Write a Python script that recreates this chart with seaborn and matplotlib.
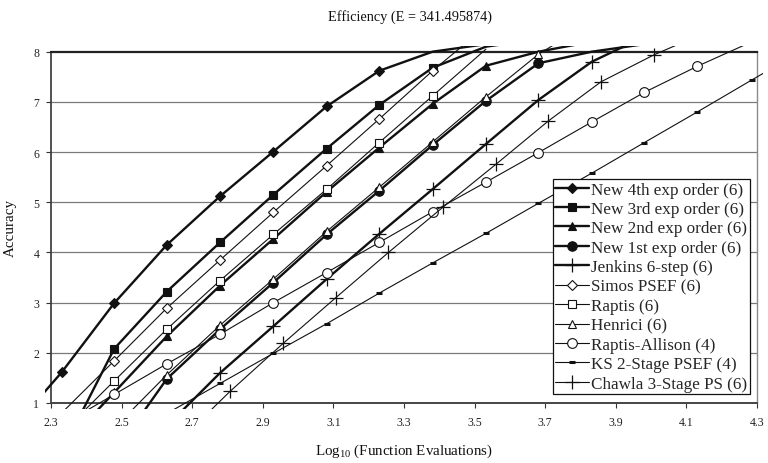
import numpy as np
import pandas as pd
import matplotlib
matplotlib.use("Agg")
import matplotlib.pyplot as plt
import matplotlib.patches as mpatches
import seaborn as sns

sns.set_theme(style="white")
plt.rcParams["font.family"] = ["Liberation Serif", "DejaVu Serif"]
plt.rcParams["mathtext.fontset"] = "custom"
plt.rcParams["mathtext.rm"] = "Liberation Serif"
plt.rcParams["mathtext.it"] = "Liberation Serif:italic"

# ---------------- data ----------------
title = "Efficiency (E = 341.495874)"
x_label = "Log$_{\\mathrm{10}}$ (Function Evaluations)"
y_label = "Accuracy"
x_ticks = [2.3, 2.5, 2.7, 2.9, 3.1, 3.3, 3.5, 3.7, 3.9, 4.1, 4.3]
y_ticks = [1, 2, 3, 4, 5, 6, 7, 8]

labels = ["New 4th exp order (6)", "New 3rd exp order (6)", "New 2nd exp order (6)",
          "New 1st exp order (6)", "Jenkins 6-step (6)", "Simos PSEF (6)", "Raptis (6)",
          "Henrici (6)", "Raptis-Allison (4)", "KS 2-Stage PSEF (4)", "Chawla 3-Stage PS (6)"]

new4_x = [2.180, 2.330, 2.479, 2.628, 2.779, 2.930, 3.081, 3.230, 3.381, 3.532]
new4_y = [0.40, 1.61, 2.99, 4.15, 5.12, 6.01, 6.91, 7.62, 8.00, 8.15]

new3_x = [2.330, 2.479, 2.628, 2.779, 2.930, 3.081, 3.230, 3.381, 3.532, 3.681]
new3_y = [0.03, 2.08, 3.22, 4.20, 5.15, 6.07, 6.94, 7.68, 8.10, 8.25]

new2_x = [2.330, 2.479, 2.628, 2.779, 2.930, 3.081, 3.230, 3.381, 3.532, 3.681, 3.832]
new2_y = [0.10, 1.21, 2.33, 3.34, 4.27, 5.21, 6.09, 6.96, 7.72, 8.00, 8.20]

new1_x = [2.479, 2.628, 2.779, 2.930, 3.081, 3.230, 3.381, 3.532, 3.681, 3.832, 3.981]
new1_y = [0.00, 1.48, 2.47, 3.40, 4.36, 5.23, 6.14, 7.02, 7.77, 8.00, 8.15]

jenk_x = [2.628, 2.779, 2.930, 3.081, 3.230, 3.381, 3.532, 3.681, 3.832, 3.981]
jenk_y = [0.54, 1.60, 2.53, 3.47, 4.37, 5.26, 6.16, 7.04, 7.80, 8.30]

simos_x = [2.330, 2.479, 2.628, 2.779, 2.930, 3.081, 3.230, 3.381, 3.532]
simos_y = [0.80, 1.84, 2.89, 3.85, 4.80, 5.73, 6.66, 7.62, 8.50]

raptis_x = [2.330, 2.479, 2.628, 2.779, 2.930, 3.081, 3.230, 3.381, 3.532]
raptis_y = [0.40, 1.44, 2.47, 3.44, 4.36, 5.26, 6.19, 7.12, 8.05]

henrici_x = [2.479, 2.628, 2.779, 2.930, 3.081, 3.230, 3.381, 3.532, 3.681, 3.832]
henrici_y = [0.50, 1.56, 2.55, 3.47, 4.42, 5.30, 6.20, 7.10, 7.95, 8.60]

ra_x = [2.330, 2.479, 2.628, 2.779, 2.930, 3.081, 3.230, 3.381, 3.532, 3.681, 3.832, 3.981, 4.131, 4.286]
ra_y = [0.56, 1.17, 1.78, 2.37, 3.00, 3.60, 4.20, 4.81, 5.40, 5.99, 6.60, 7.19, 7.71, 8.20]

ks_x = [2.628, 2.779, 2.930, 3.081, 3.230, 3.381, 3.532, 3.681, 3.832, 3.981, 4.131, 4.286, 4.436]
ks_y = [0.79, 1.39, 1.99, 2.58, 3.19, 3.79, 4.38, 4.98, 5.58, 6.19, 6.80, 7.44, 8.05]

chawla_x = [2.657, 2.807, 2.958, 3.107, 3.256, 3.410, 3.561, 3.709, 3.858, 4.009, 4.160]
chawla_y = [0.20, 1.23, 2.19, 3.10, 4.00, 4.90, 5.76, 6.62, 7.40, 7.94, 8.40]

series_x = [new4_x, new3_x, new2_x, new1_x, jenk_x, simos_x, raptis_x,
            henrici_x, ra_x, ks_x, chawla_x]
series_y = [new4_y, new3_y, new2_y, new1_y, jenk_y, simos_y, raptis_y,
            henrici_y, ra_y, ks_y, chawla_y]

# ---------------- styles ----------------
K = "#111111"
styles = [
    dict(marker="D", ms=5.2, mfc=K, lw=1.7),
    dict(marker="s", ms=6.0, mfc=K, lw=1.7),
    dict(marker="^", ms=6.2, mfc=K, lw=1.7),
    dict(marker="o", ms=6.8, mfc=K, lw=1.7),
    dict(marker="+", ms=10, mfc=K, lw=1.7, mew=0.9),
    dict(marker="D", ms=5.2, mfc="white", lw=0.8, mew=0.8),
    dict(marker="s", ms=6.0, mfc="white", lw=0.8, mew=0.8),
    dict(marker="^", ms=6.2, mfc="white", lw=0.8, mew=0.8),
    dict(marker="o", ms=7.0, mfc="white", lw=0.8, mew=0.8),
    dict(marker="_", ms=4.0, mfc=K, lw=0.8, mew=2.2),
    dict(marker="+", ms=10, mfc=K, lw=0.8, mew=0.9),
]

W, H = 768, 464
fig = plt.figure(figsize=(W / 100, H / 100), dpi=100)
ax_l, ax_r, ax_t, ax_b = 51, 757, 52.7, 404
ax = fig.add_axes([ax_l / W, 1 - ax_b / H, (ax_r - ax_l) / W, (ax_b - ax_t) / H])
ax.set_facecolor("white")

# clipping region slightly larger than the plot frame
padx = 6 / (ax_r - ax_l)
pady = 6 / (ax_b - ax_t)
clip_rect = mpatches.Rectangle((-padx, -pady), 1 + 2 * padx, 1 + 2 * pady,
                               transform=ax.transAxes, facecolor="none", edgecolor="none")

handles = []
for lab, xs, ys, st in zip(labels, series_x, series_y, styles):
    n_before = len(ax.lines)
    visible = [i for i, (xv, yv) in enumerate(zip(xs, ys))
               if 0.99 <= yv < 7.99 and 2.29 <= xv <= 4.31]
    sns.lineplot(x=xs, y=ys, ax=ax, sort=False, estimator=None, color=K,
                 linewidth=st["lw"], marker=st["marker"], markersize=st["ms"],
                 markerfacecolor=st["mfc"], markeredgecolor=K,
                 markeredgewidth=st.get("mew", 0.8), label=lab, legend=False,
                 markevery=visible, zorder=3)
    line = ax.lines[n_before]
    line.set_clip_path(clip_rect)
    handles.append(line)

ax.set_xlim(2.3, 4.3)
ax.set_ylim(1, 8)
ax.set_xticks(x_ticks)
ax.set_xticklabels([f"{t:.1f}" for t in x_ticks])
ax.set_yticks(y_ticks)
ax.set_yticklabels([str(t) for t in y_ticks])
ax.tick_params(axis="both", direction="out", length=3.5, width=0.8, color="#333333",
               labelsize=8.5, labelcolor="#222222")
ax.tick_params(axis="x", pad=6)
ax.tick_params(axis="y", pad=5)
ax.xaxis.set_ticks_position("bottom")
ax.yaxis.set_ticks_position("left")

for yv in y_ticks[1:-1]:
    ax.axhline(yv, color="#7a7a7a", lw=0.9, zorder=1)

ax.spines["top"].set_color("#222222")
ax.spines["top"].set_linewidth(1.6)
ax.spines["left"].set_color("#333333")
ax.spines["left"].set_linewidth(1.2)
ax.spines["bottom"].set_color("#444444")
ax.spines["bottom"].set_linewidth(1.4)
ax.spines["right"].set_color("#8a8a8a")
ax.spines["right"].set_linewidth(1.0)
for s in ax.spines.values():
    s.set_zorder(2)

ax.set_xlabel(x_label, fontsize=10.8, color="#111111", labelpad=10)
ax.set_ylabel(y_label, fontsize=10.8, color="#111111", labelpad=12)
fig.text((ax_l + ax_r) / 2 / W + 0.008, 1 - 17 / H, title, ha="center", va="center",
         fontsize=10.3, color="#111111")

leg = ax.legend(handles=handles, labels=labels, loc="upper left",
                bbox_to_anchor=(552.7 / W, 1 - 180 / H), bbox_transform=fig.transFigure,
                fontsize=12.3, frameon=True, fancybox=False, framealpha=1, edgecolor="#111111",
                borderaxespad=0, borderpad=0.15, labelspacing=0.2, handlelength=1.95,
                handletextpad=0.14, numpoints=1)
leg.get_frame().set_linewidth(0.9)
leg.set_zorder(5)

fig.savefig("out.png", dpi=100, facecolor="white")
